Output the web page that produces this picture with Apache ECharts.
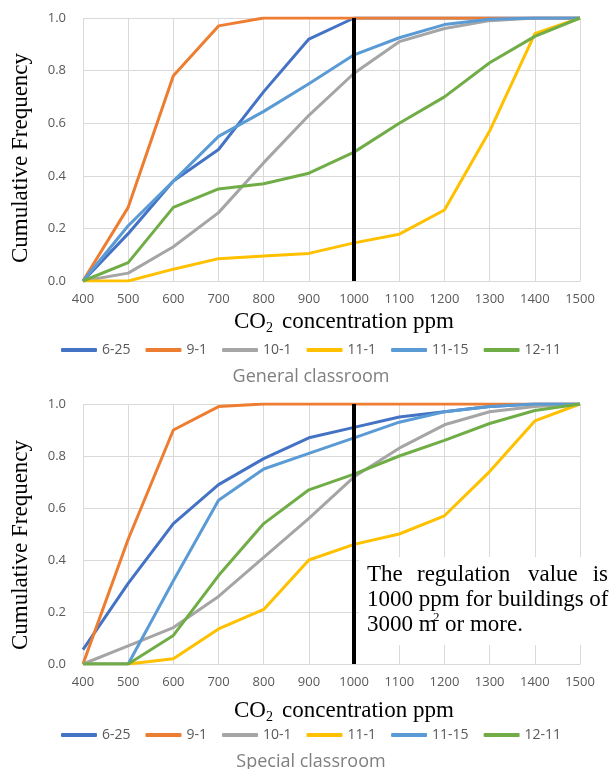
<!DOCTYPE html>
<html>
<head>
<meta charset="utf-8">
<script src="https://cdn.jsdelivr.net/npm/echarts@6/dist/echarts.min.js"></script>
<style>
html,body{margin:0;padding:0;background:#fff;}
#c{width:611px;height:769px;}
</style>
</head>
<body>
<div id="c"></div>
<script>
// ---- data ----
var xValues = [400, 500, 600, 700, 800, 900, 1000, 1100, 1200, 1300, 1400, 1500];
var seriesNames = ['6-25', '9-1', '10-1', '11-1', '11-15', '12-11'];
var seriesColors = ['#4472C4', '#ED7D31', '#A5A5A5', '#FFC000', '#5B9BD5', '#70AD47'];
var yTicks = [0, 0.2, 0.4, 0.6, 0.8, 1.0];
var regulationValue = 1000;

// General classroom
var gen_6_25  = [0, 0.18, 0.38, 0.50, 0.72, 0.92, 1.00, 1.00, 1.00, 1.00, 1.00, 1.00];
var gen_9_1   = [0, 0.28, 0.78, 0.97, 1.00, 1.00, 1.00, 1.00, 1.00, 1.00, 1.00, 1.00];
var gen_10_1  = [0, 0.03, 0.13, 0.26, 0.45, 0.63, 0.79, 0.91, 0.96, 0.99, 1.00, 1.00];
var gen_11_1  = [0, 0.00, 0.045, 0.085, 0.095, 0.105, 0.145, 0.178, 0.27, 0.57, 0.94, 1.00];
var gen_11_15 = [0, 0.21, 0.38, 0.55, 0.645, 0.75, 0.86, 0.925, 0.975, 0.995, 1.00, 1.00];
var gen_12_11 = [0, 0.07, 0.28, 0.35, 0.37, 0.41, 0.49, 0.60, 0.70, 0.83, 0.93, 1.00];

// Special classroom
var spe_6_25  = [0.055, 0.31, 0.54, 0.69, 0.79, 0.87, 0.91, 0.95, 0.97, 0.99, 1.00, 1.00];
var spe_9_1   = [0, 0.48, 0.90, 0.99, 1.00, 1.00, 1.00, 1.00, 1.00, 1.00, 1.00, 1.00];
var spe_10_1  = [0, 0.07, 0.14, 0.26, 0.41, 0.56, 0.72, 0.83, 0.92, 0.97, 0.99, 1.00];
var spe_11_1  = [0, 0, 0.02, 0.135, 0.21, 0.40, 0.46, 0.50, 0.57, 0.74, 0.935, 1.00];
var spe_11_15 = [0, 0, 0.32, 0.63, 0.75, 0.81, 0.87, 0.93, 0.97, 0.99, 1.00, 1.00];
var spe_12_11 = [0, 0, 0.11, 0.34, 0.54, 0.67, 0.73, 0.80, 0.86, 0.925, 0.975, 1.00];

var generalData = [gen_6_25, gen_9_1, gen_10_1, gen_11_1, gen_11_15, gen_12_11];
var specialData = [spe_6_25, spe_9_1, spe_10_1, spe_11_1, spe_11_15, spe_12_11];

// ---- chart ----
var chart = echarts.init(document.getElementById('c'), null, {renderer: 'canvas'});
var sans = '"Open Sans", "Liberation Sans", sans-serif';
var serif = '"Liberation Serif", "DejaVu Serif", serif';
var grid = '#D9D9D9';

function pairs(arr) { return xValues.map(function (x, i) { return [x, arr[i]]; }); }

function makeX(gi) {
  return {
    type: 'value', gridIndex: gi, min: 400, max: 1500, interval: 100,
    axisLine: {show: true, lineStyle: {color: grid, width: 1}},
    axisTick: {show: false},
    splitLine: {show: true, lineStyle: {color: grid, width: 1}},
    axisLabel: {color: '#595959', fontFamily: sans, fontSize: 13, margin: 12,
      formatter: function (v) { return String(v); }}
  };
}
function makeY(gi) {
  return {
    type: 'value', gridIndex: gi, min: 0, max: 1, interval: 0.2,
    axisLine: {show: false}, axisTick: {show: false},
    splitLine: {show: true, lineStyle: {color: grid, width: 1}},
    axisLabel: {color: '#595959', fontFamily: sans, fontSize: 13, margin: 17,
      formatter: function (v) { return v.toFixed(1); }}
  };
}

var series = [];
[generalData, specialData].forEach(function (set, gi) {
  set.forEach(function (arr, si) {
    var s = {
      name: seriesNames[si], type: 'line', xAxisIndex: gi, yAxisIndex: gi,
      data: pairs(arr), showSymbol: false, symbol: 'none',
      lineStyle: {color: seriesColors[si], width: 3},
      itemStyle: {color: seriesColors[si]},
      animation: false, silent: true
    };
    if (si === set.length - 1) {
      s.markLine = {
        symbol: 'none', silent: true, animation: false,
        label: {show: false},
        lineStyle: {color: '#000', width: 4, type: 'solid'},
        data: [{xAxis: regulationValue}]
      };
    }
    series.push(s);
  });
});

function legendAt(top) {
  return {
    top: top, left: 61, padding: 0, itemGap: 15,
    itemWidth: 36, itemHeight: 4, icon: 'roundRect',
    data: seriesNames.map(function (n, i) { return {name: n, itemStyle: {color: seriesColors[i]}}; }),
    textStyle: {color: '#595959', fontFamily: sans, fontSize: 14},
    selectedMode: false
  };
}

function yTitle(cy) {
  return {type: 'text', x: 21, y: cy, rotation: Math.PI / 2,
    style: {text: 'Cumulative Frequency', font: '23px ' + serif, fill: '#000',
      textAlign: 'center', textVerticalAlign: 'middle'}};
}
function xTitle(cy) {
  var x0 = 234;
  return [
    {type: 'text', x: x0, y: cy, style: {text: 'CO', font: '23px ' + serif, fill: '#000', textAlign: 'left', textVerticalAlign: 'middle'}},
    {type: 'text', x: x0 + 32, y: cy + 6, style: {text: '2', font: '14px ' + serif, fill: '#000', textAlign: 'left', textVerticalAlign: 'middle'}},
    {type: 'text', x: x0 + 48, y: cy, style: {text: 'concentration ppm', font: '23px ' + serif, fill: '#000', textAlign: 'left', textVerticalAlign: 'middle'}}
  ];
}
function subTitle(text, cy) {
  return {type: 'text', x: 311, y: cy,
    style: {text: text, font: '18px ' + sans, fill: '#7F7F7F', textAlign: 'center', textVerticalAlign: 'middle'}};
}

var ann = '23px ' + serif;
var graphics = [
  yTitle(158), yTitle(545),
  subTitle('General classroom', 377), subTitle('Special classroom', 762),
  {type: 'rect', shape: {x: 359, y: 557, width: 252, height: 88}, style: {fill: '#fff'}, z: 50},
  {type: 'text', x: 367, y: 575, z: 51, style: {text: 'The', font: ann, fill: '#000', textAlign: 'left', textVerticalAlign: 'middle'}},
  {type: 'text', x: 417, y: 575, z: 51, style: {text: 'regulation', font: ann, fill: '#000', textAlign: 'left', textVerticalAlign: 'middle'}},
  {type: 'text', x: 528, y: 575, z: 51, style: {text: 'value', font: ann, fill: '#000', textAlign: 'left', textVerticalAlign: 'middle'}},
  {type: 'text', x: 608, y: 575, z: 51, style: {text: 'is', font: ann, fill: '#000', textAlign: 'right', textVerticalAlign: 'middle'}},
  {type: 'text', x: 367, y: 600, z: 51, style: {text: '1000 ppm for buildings of', font: ann, fill: '#000', textAlign: 'left', textVerticalAlign: 'middle'}},
  {type: 'text', x: 367, y: 625, z: 51, style: {text: '3000 m', font: ann, fill: '#000', textAlign: 'left', textVerticalAlign: 'middle'}},
  {type: 'text', x: 433, y: 618, z: 51, style: {text: '2', font: '13px ' + serif, fill: '#000', textAlign: 'left', textVerticalAlign: 'middle'}},
  {type: 'text', x: 445, y: 625, z: 51, style: {text: 'or more.', font: ann, fill: '#000', textAlign: 'left', textVerticalAlign: 'middle'}}
].concat(xTitle(322)).concat(xTitle(711));

chart.setOption({
  animation: false,
  backgroundColor: '#fff',
  grid: [
    {left: 83, top: 18, width: 497, height: 263, containLabel: false},
    {left: 83, top: 404, width: 497, height: 260, containLabel: false}
  ],
  xAxis: [makeX(0), makeX(1)],
  yAxis: [makeY(0), makeY(1)],
  legend: [legendAt(343), legendAt(728)],
  series: series,
  graphic: graphics
});
</script>
</body>
</html>
